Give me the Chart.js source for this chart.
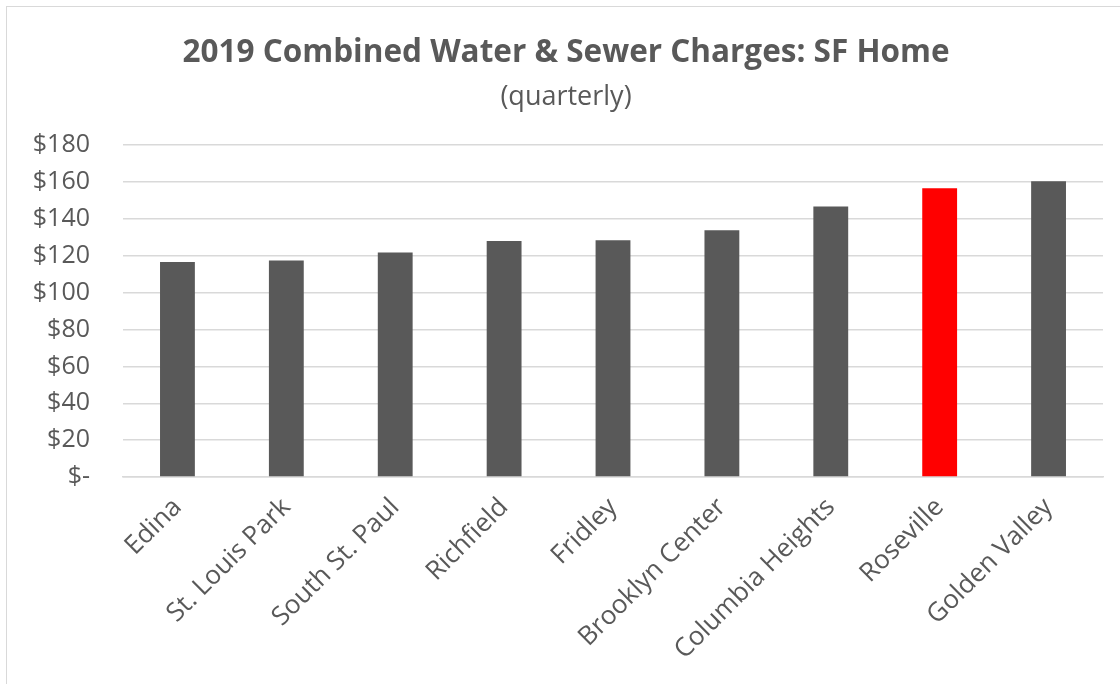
<!DOCTYPE html>
<html>
<head>
    <style>
        body, html {
            margin: 0;
            width: 1120px;
            height: 684px;
            background: white;
            overflow: hidden;
        }
        /* chart frame: only its top and left edges fall inside the picture */
        #frame {
            position: absolute;
            left: 6px;
            top: 6px;
            width: 1200px;
            height: 720px;
            border: 1.5px solid #d9d9d9;
            box-sizing: border-box;
        }
        #wrap {
            position: absolute;
            left: 0;
            top: 0;
            width: 1120px;
            height: 684px;
        }
    </style>
    <script src="https://cdn.jsdelivr.net/npm/chart.js"></script>
</head>
<body>
    <div id="frame"></div>
    <div id="wrap"><canvas id="waterChart"></canvas></div>

    <script>
        // data
        const cities = ["Edina", "St. Louis Park", "South St. Paul", "Richfield", "Fridley",
                        "Brooklyn Center", "Columbia Heights", "Roseville", "Golden Valley"];
        const charges = [116.7, 117.5, 121.8, 128.0, 128.5, 133.9, 146.8, 156.7, 160.5];
        const highlightCity = "Roseville";
        const yTicks = [0, 20, 40, 60, 80, 100, 120, 140, 160, 180];

        const grey = '#595959';
        const barColors = cities.map(c => c === highlightCity ? '#ff0000' : grey);

        const ctx = document.getElementById("waterChart").getContext("2d");
        const waterChart = new Chart(ctx, {
            type: 'bar',
            data: {
                labels: cities,
                datasets: [{
                    label: 'Combined charge',
                    data: charges,
                    backgroundColor: barColors,
                    barPercentage: 0.32,
                    categoryPercentage: 1.0
                }]
            },
            options: {
                responsive: true,
                maintainAspectRatio: false,
                animation: false,
                layout: {
                    // left/right chosen so the titles centre where the original's do
                    padding: { left: 29, right: 17, top: 8, bottom: 0 }
                },
                plugins: {
                    legend: { display: false },
                    tooltip: { enabled: false },
                    title: {
                        display: true,
                        text: '2019 Combined Water & Sewer Charges: SF Home',
                        color: grey,
                        font: { family: 'Open Sans', size: 31.5, weight: 'bold' },
                        padding: { top: 26, bottom: 5 }
                    },
                    subtitle: {
                        display: true,
                        text: '(quarterly)',
                        color: grey,
                        font: { family: 'Open Sans', size: 27 },
                        padding: { top: 4, bottom: 32 }
                    }
                },
                scales: {
                    x: {
                        grid: { display: false, drawTicks: false },
                        border: { color: '#d9d9d9', width: 1.5 },
                        afterFit: axis => { axis.height = 207; },
                        ticks: {
                            color: grey,
                            autoSkip: false,
                            minRotation: 45,
                            maxRotation: 45,
                            padding: 15,
                            font: { family: 'Open Sans', size: 26 }
                        }
                    },
                    y: {
                        min: 0,
                        max: 180,
                        afterBuildTicks: axis => {
                            axis.ticks = yTicks.map(v => ({ value: v }));
                        },
                        afterFit: axis => { axis.width = 94; },
                        grid: { color: '#d9d9d9', lineWidth: 1.5, drawTicks: false },
                        border: { display: false },
                        ticks: {
                            color: grey,
                            padding: 33,
                            font: { family: 'Open Sans', size: 25 },
                            callback: v => v === 0 ? '$-' : '$' + v
                        }
                    }
                }
            }
        });
    </script>
</body>
</html>
